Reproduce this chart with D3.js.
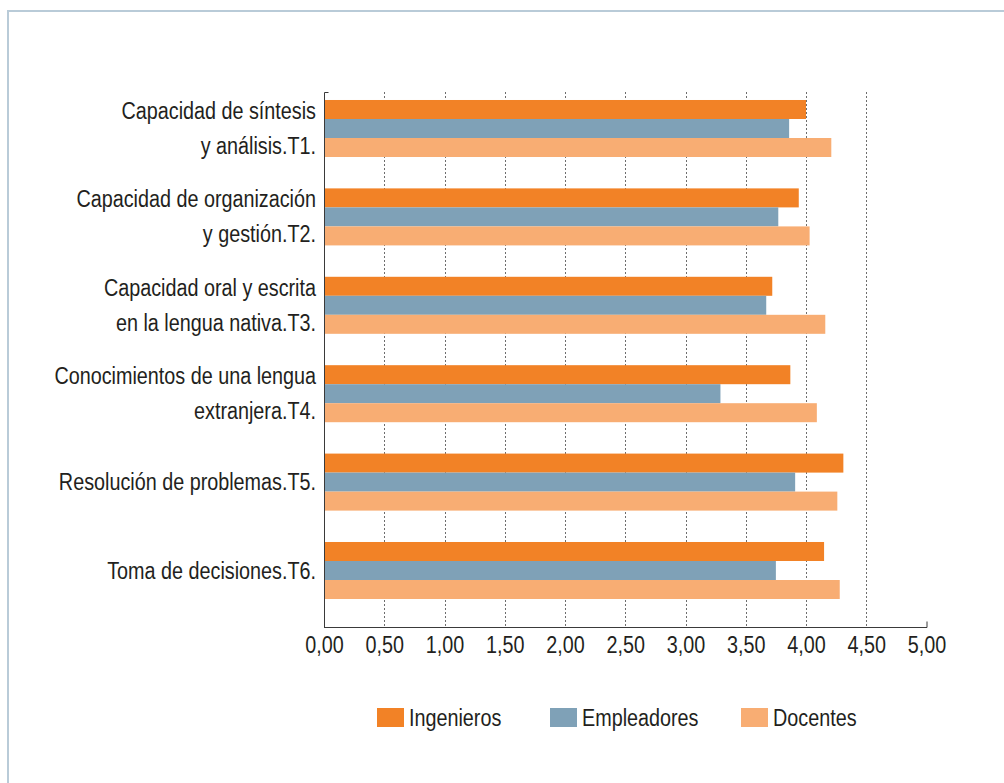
<!DOCTYPE html>
<html><head><meta charset="utf-8">
<script src="https://cdn.jsdelivr.net/npm/d3@7"></script>
<style>
html,body{margin:0;padding:0;background:#fff;}
svg{display:block;}
text{font-family:"Liberation Sans Narrow","Liberation Sans",Arial,sans-serif;fill:#231f20;}
</style></head>
<body>
<svg id="chart" width="1004" height="783"></svg>
<script>
const categories = ["T1","T2","T3","T4","T5","T6"];
const categoryLabels = [
  ["Capacidad de síntesis","y análisis.T1."],
  ["Capacidad de organización","y gestión.T2."],
  ["Capacidad oral y escrita","en la lengua nativa.T3."],
  ["Conocimientos de una lengua","extranjera.T4."],
  ["Resolución de problemas.T5."],
  ["Toma de decisiones.T6."]
];
const seriesNames = ["Ingenieros","Empleadores","Docentes"];
const ingenieros  = [4.00, 3.94, 3.72, 3.87, 4.31, 4.15];
const empleadores = [3.86, 3.77, 3.67, 3.29, 3.91, 3.75];
const docentes    = [4.21, 4.03, 4.16, 4.09, 4.26, 4.28];
const tickValues = [0,0.5,1,1.5,2,2.5,3,3.5,4,4.5,5];
const colors = ["#F28226","#7FA1B7","#F8AD73"];

const seriesValues = [ingenieros, empleadores, docentes];
const svg = d3.select("#chart");
const SX = 0.86; // horizontal condensation of text

// outer frame
svg.append("rect").attr("x",8).attr("y",11).attr("width",1010).attr("height",800)
  .attr("fill","none").attr("stroke","#B9CBD8").attr("stroke-width",2);

const x = d3.scaleLinear().domain([0,5]).range([324,926.5]);
const plotTop = 92, plotBottom = 627;
const y = d3.scaleBand().domain(categories).range([84.3,614.7]).paddingInner(0.355).paddingOuter(0.1775);
const ySub = d3.scaleBand().domain(seriesNames).range([0,y.bandwidth()]);

// gridlines
svg.append("g").selectAll("line").data(tickValues.filter(v=>v>0 && v<5)).join("line")
  .attr("x1",d=>Math.round(x(d))+0.5).attr("x2",d=>Math.round(x(d))+0.5)
  .attr("y1",plotTop).attr("y2",plotBottom)
  .attr("stroke","#6d6d6d").attr("stroke-width",1).attr("stroke-dasharray","2,2");

// bars
const groups = svg.append("g").selectAll("g").data(categories).join("g")
  .attr("transform",d=>`translate(0,${y(d)})`);
groups.selectAll("rect").data((d,i)=>seriesNames.map((s,j)=>({s,j,v:seriesValues[j][i]}))).join("rect")
  .attr("x",x(0)).attr("y",d=>ySub(d.s)).attr("height",ySub.bandwidth())
  .attr("width",d=>x(d.v)-x(0)).attr("fill",d=>colors[d.j]);

// axes
const axG = svg.append("g").attr("stroke","#3a3a3a").attr("stroke-width",1).attr("fill","none");
axG.append("path").attr("d",`M${x(0)+0.5},${plotBottom+0.5}V${plotTop+0.5}h4`);
axG.append("path").attr("d",`M${x(0)},${plotBottom+0.5}H${x(5)+0.5}v-6`);

// x tick labels
const xAxis = d3.axisBottom(x).tickValues(tickValues).tickSize(0)
  .tickFormat(d=>d3.format(".2f")(d).replace(".",","));
const xg = svg.append("g").attr("transform",`translate(0,${plotBottom})`).call(xAxis);
xg.select(".domain").remove();
xg.attr("font-family",null).attr("font-size",null);
xg.selectAll("text").attr("dy",null).attr("y",26).attr("font-size",23)
  .attr("transform",`scale(${SX},1)`).attr("fill","#231f20");

// y labels
const yl = svg.append("g").selectAll("text").data(categories).join("text")
  .attr("text-anchor","end").attr("font-size",23)
  .attr("transform",d=>`translate(316,${y(d)+y.bandwidth()/2}) scale(${SX},1)`);
yl.each(function(d,i){
  const lines = categoryLabels[i];
  const n = lines.length;
  d3.select(this).selectAll("tspan").data(lines).join("tspan")
    .attr("x",0).attr("y",(l,k)=>(k-(n-1)/2)*35 + 8)
    .text(l=>l);
});

// legend
const legendX = [377,550,741];
const lg = svg.append("g").selectAll("g").data(seriesNames).join("g")
  .attr("transform",(d,i)=>`translate(${legendX[i]},708)`);
lg.append("rect").attr("width",27).attr("height",19).attr("fill",(d,i)=>colors[i]);
lg.append("text").attr("font-size",23).attr("transform",`translate(32,18) scale(${SX},1)`).text(d=>d);
</script>
</body></html>
